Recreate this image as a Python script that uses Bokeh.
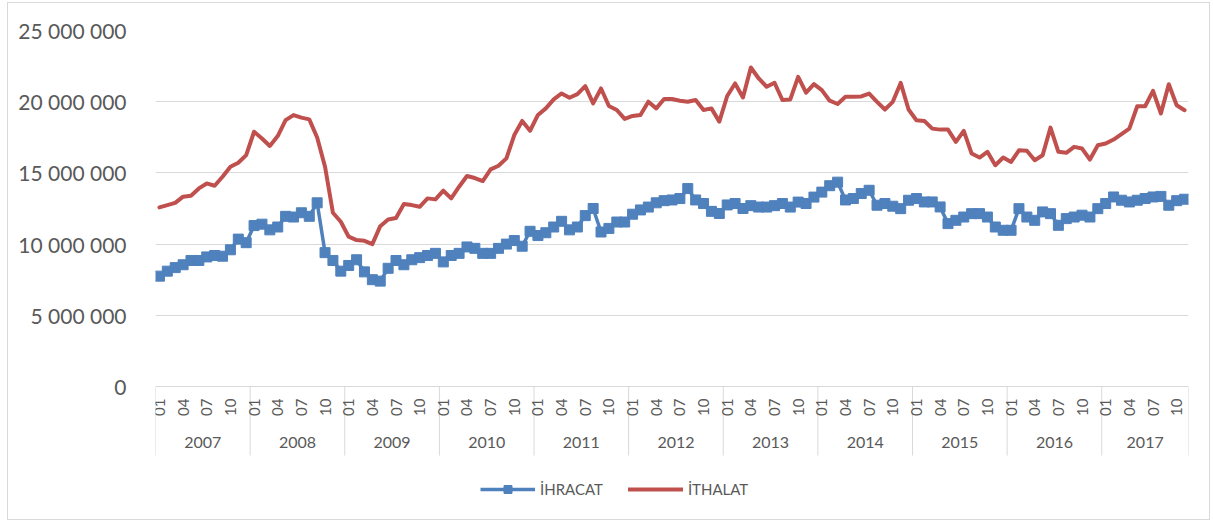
from math import pi
from bokeh.plotting import figure
from bokeh.models import (Range1d, LinearAxis, FixedTicker, Legend, LegendItem, Grid,
                          ColumnDataSource)
from bokeh.core.properties import value
from bokeh.embed import file_html
from bokeh.resources import INLINE

years = [2007, 2008, 2009, 2010, 2011, 2012, 2013, 2014, 2015, 2016, 2017]
month_labels = ["01", "04", "07", "10"]

ihracat = [
    7750000, 8100000, 8350000, 8550000, 8850000, 8850000, 9100000, 9200000, 9150000, 9600000, 10350000, 10100000,
    11300000, 11400000, 11000000, 11200000, 11950000, 11900000, 12200000, 11950000, 12900000, 9400000, 8850000, 8100000,
    8500000, 8900000, 8050000, 7500000, 7400000, 8300000, 8850000, 8550000, 8900000, 9050000, 9200000, 9350000,
    8750000, 9200000, 9350000, 9800000, 9700000, 9350000, 9350000, 9700000, 10000000, 10250000, 9850000, 10900000,
    10600000, 10800000, 11200000, 11600000, 11000000, 11200000, 12000000, 12500000, 10850000, 11100000, 11550000, 11550000,
    12100000, 12400000, 12600000, 12900000, 13050000, 13100000, 13200000, 13900000, 13100000, 12850000, 12300000, 12150000,
    12750000, 12850000, 12500000, 12700000, 12600000, 12600000, 12700000, 12850000, 12600000, 12950000, 12850000, 13300000,
    13650000, 14100000, 14350000, 13100000, 13200000, 13550000, 13780000, 12730000, 12850000, 12660000, 12490000, 13080000,
    13200000, 12960000, 12960000, 12610000, 11440000, 11670000, 11900000, 12140000, 12140000, 11900000, 11200000, 10970000,
    10970000, 12490000, 11900000, 11670000, 12260000, 12140000, 11320000, 11790000, 11900000, 12030000, 11900000, 12490000,
    12850000, 13310000, 13080000, 12960000, 13080000, 13200000, 13310000, 13350000, 12730000, 13050000, 13150000,
]

ithalat = [
    12580000, 12740000, 12900000, 13330000, 13400000, 13910000, 14260000, 14100000, 14730000, 15430000, 15710000, 16250000,
    17890000, 17420000, 16890000, 17590000, 18710000, 19060000, 18880000, 18760000, 17490000, 15430000, 12200000, 11570000,
    10520000, 10280000, 10230000, 10000000, 11260000, 11730000, 11830000, 12810000, 12740000, 12620000, 13210000, 13140000,
    13750000, 13210000, 14030000, 14780000, 14640000, 14430000, 15250000, 15500000, 16020000, 17660000, 18650000, 17960000,
    19070000, 19530000, 20160000, 20580000, 20280000, 20530000, 21090000, 19880000, 20930000, 19700000, 19420000, 18790000,
    19000000, 19070000, 20000000, 19530000, 20190000, 20190000, 20070000, 20000000, 20120000, 19420000, 19530000, 18600000,
    20400000, 21280000, 20300000, 22400000, 21630000, 21050000, 21330000, 20120000, 20160000, 21740000, 20630000, 21230000,
    20810000, 20070000, 19840000, 20350000, 20350000, 20370000, 20570000, 19990000, 19450000, 19990000, 21320000, 19450000,
    18700000, 18650000, 18110000, 18040000, 18040000, 17180000, 17950000, 16360000, 16080000, 16480000, 15540000, 16080000,
    15770000, 16590000, 16550000, 15890000, 16240000, 18180000, 16480000, 16410000, 16830000, 16710000, 15940000, 16940000,
    17060000, 17340000, 17720000, 18110000, 19680000, 19680000, 20760000, 19170000, 21230000, 19750000, 19400000,
]

n = len(ihracat)
xs = [i + 0.5 for i in range(n)]
src = ColumnDataSource(dict(x=xs, ihr=ihracat, ith=ithalat))

TEXT = "#595959"
GRID = "#d9d9d9"
FONT = "Lato"
YMAX = 25000000

# pixel layout of the frame (page coordinates): top, value-zero line, bottom
PX_TOP, PX_ZERO, PX_BOTTOM = 30, 386, 514
UNIT = YMAX / (PX_ZERO - PX_TOP)          # data units per pixel


def below(px):
    """data y for a pixel row under the zero line"""
    return -(px - PX_ZERO) * UNIT


p = figure(width=1201, height=516, output_backend="svg", toolbar_location=None,
           x_range=Range1d(0, n), y_range=Range1d(below(PX_BOTTOM), YMAX),
           x_axis_type=None, y_axis_type=None,
           min_border_left=147, min_border_right=21, min_border_top=27, min_border_bottom=5)
p.outline_line_color = None
p.background_fill_color = "white"
p.border_fill_color = "white"
p.styles = {"margin-left": "8px", "margin-top": "3px", "outline": "1px solid #d9d9d9"}

# y axis
yticks = [0, 5000000, 10000000, 15000000, 20000000, 25000000]
yticker = FixedTicker(ticks=yticks)
yax = LinearAxis(ticker=yticker,
                 major_label_overrides={t: f"{t:,}".replace(",", " ") for t in yticks},
                 axis_line_color=None, major_tick_line_color=None, minor_tick_line_color=None,
                 major_label_standoff=23, major_label_text_font=FONT,
                 major_label_text_font_size="21px", major_label_text_color=TEXT)
p.add_layout(yax, "left")
p.add_layout(Grid(dimension=1, ticker=yticker, grid_line_color=GRID, grid_line_width=1))

# two-level category axis: months (rotated) and years, with year separators
month_x, month_t, boundaries, year_x, year_t = [], [], [], [], []
for yi, yr in enumerate(years):
    start = yi * 12
    boundaries.append(start)
    for k, lab in enumerate(month_labels):
        idx = start + k * 3
        if idx < n:
            month_x.append(idx + 0.5)
            month_t.append(lab)
boundaries.append(n)
for yi, yr in enumerate(years):
    year_x.append((boundaries[yi] + boundaries[yi + 1]) / 2)
    year_t.append(str(yr))

p.segment(x0=boundaries, y0=[0] * len(boundaries), x1=boundaries,
          y1=[below(455)] * len(boundaries), line_color=GRID, line_width=1)
p.text(x=month_x, y=[below(398)] * len(month_x), text=month_t, angle=pi / 2,
       text_align="right", text_baseline="middle", text_font=value(FONT),
       text_font_size="15px", text_color=TEXT)
p.text(x=year_x, y=[below(442)] * len(year_x), text=year_t,
       text_align="center", text_baseline="middle", text_font=value(FONT),
       text_font_size="16px", text_color=TEXT)

BLUE = "#4f81bd"
RED = "#c0504d"
bl = p.line("x", "ihr", source=src, line_color=BLUE, line_width=3.5, line_join="round")
bs = p.scatter("x", "ihr", source=src, marker="square", size=10, fill_color=BLUE, line_color=BLUE)
rl = p.line("x", "ith", source=src, line_color=RED, line_width=4, line_join="round", line_cap="round")

legend = Legend(items=[LegendItem(label="İHRACAT", renderers=[bl, bs]),
                       LegendItem(label="İTHALAT", renderers=[rl])],
                location=(325, PX_BOTTOM - 499), orientation="horizontal",
                glyph_width=55, glyph_height=20, label_standoff=5, spacing=25,
                padding=0, margin=0, border_line_color=None, background_fill_alpha=0,
                label_text_font=FONT, label_text_font_size="15px", label_text_color=TEXT)
p.add_layout(legend)

open("out.html", "w").write(file_html(p, INLINE))
